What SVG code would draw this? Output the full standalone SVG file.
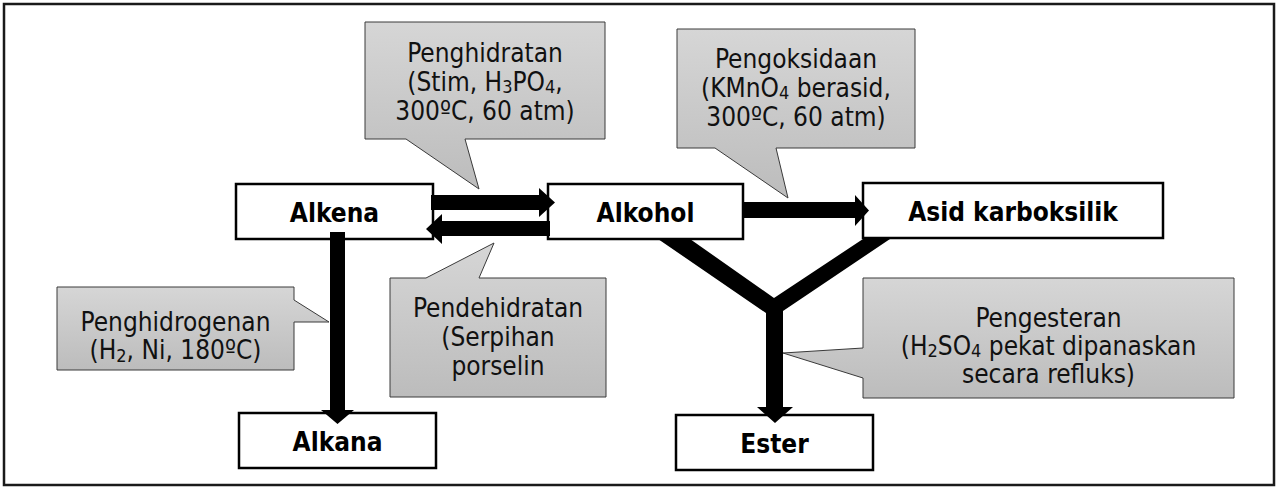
<svg xmlns="http://www.w3.org/2000/svg" width="1279" height="495" viewBox="0 0 1279 495">
<style>
.frame{fill:#fff;stroke:#1a1a1a;stroke-width:2.5}
.box{fill:#fff;stroke:#000;stroke-width:2.5}
.lbl{font-family:"DejaVu Sans Condensed","DejaVu Sans",sans-serif;font-stretch:condensed;font-weight:bold;font-size:26px;fill:#000;text-anchor:middle}
.co{fill:url(#g);stroke:#3a3a3a;stroke-width:1}
.ct{font-family:"DejaVu Sans Condensed","DejaVu Sans",sans-serif;font-stretch:condensed;font-size:26px;fill:#111;text-anchor:middle}
.sb{font-size:18px}
.arr{fill:#000;stroke:none}
</style>
<defs>
<linearGradient id="g" x1="0" y1="0" x2="0" y2="1">
<stop offset="0" stop-color="#d6d6d6"/>
<stop offset="1" stop-color="#bcbcbc"/>
</linearGradient>
</defs>
<rect width="1279" height="495" fill="#fff"/>
<rect class="frame" x="4" y="4" width="1270" height="481"/>

<g id="alkena"><rect class="box" x="236" y="184" width="197" height="55"/><text class="lbl" x="334.5" y="222">Alkena</text></g>
<g id="alkohol"><rect class="box" x="548" y="184" width="195" height="55"/><text class="lbl" x="645.5" y="222">Alkohol</text></g>
<g id="asid"><rect class="box" x="863" y="183" width="300" height="55"/><text class="lbl" x="1013" y="221">Asid karboksilik</text></g>
<g id="alkana"><rect class="box" x="239" y="413" width="197" height="55"/><text class="lbl" x="337.5" y="451">Alkana</text></g>
<g id="ester"><rect class="box" x="676" y="415" width="197" height="55"/><text class="lbl" x="774.5" y="453">Ester</text></g>

<g id="connectors">
<polygon class="arr" points="431,195 539,195 539,188 555,202.5 539,217 539,210 431,210"/>
<polygon class="arr" points="550,221 442,221 442,214 426,229 442,244 442,236 550,236"/>
<polygon class="arr" points="743,202 855,202 855,195 869,210.5 855,226 855,218 743,218"/>
<polygon class="arr" points="330,232 345,232 345,410 354,410 337.5,424 321,410 330,410"/>
<polygon class="arr" points="658,239 690,239 774,298 863,239 890,239 783,311 783,407 793,407 775,423 757,407 766,407 766,313"/>
</g>

<g id="callout-penghidratan">
<path class="co" d="M365,22 H605 V139 H465 L479,189 L406,139 H365 Z"/>
<text class="ct" x="485" y="62">Penghidratan</text>
<text class="ct" x="485" y="91">(Stim, H<tspan class="sb" dy="2">3</tspan><tspan dy="-2">PO</tspan><tspan class="sb" dy="2">4</tspan><tspan dy="-2">,</tspan></text>
<text class="ct" x="485" y="120">300ºC, 60 atm)</text>
</g>
<g id="callout-pengoksidaan">
<path class="co" d="M677,29 H915 V148 H776 L788,198 L715,148 H677 Z"/>
<text class="ct" x="796" y="68">Pengoksidaan</text>
<text class="ct" x="796" y="97">(KMnO<tspan class="sb" dy="2">4</tspan><tspan dy="-2"> berasid,</tspan></text>
<text class="ct" x="796" y="126">300ºC, 60 atm)</text>
</g>
<g id="callout-penghidrogenan">
<path class="co" d="M57,287 H294 V300 L329,322 L294,322 V370 H57 Z"/>
<text class="ct" x="175.5" y="331">Penghidrogenan</text>
<text class="ct" x="175.5" y="359">(H<tspan class="sb" dy="3">2</tspan><tspan dy="-3">, Ni, 180ºC)</tspan></text>
</g>
<g id="callout-pendehidratan">
<path class="co" d="M390,278 H426 L494,243 L479,278 H606 V397 H390 Z"/>
<text class="ct" x="498" y="317">Pendehidratan</text>
<text class="ct" x="498" y="346">(Serpihan</text>
<text class="ct" x="498" y="375">porselin</text>
</g>
<g id="callout-pengesteran">
<path class="co" d="M863,278 H1234 V398 H863 V378 L783,353 L863,348 Z"/>
<text class="ct" x="1048.5" y="327">Pengesteran</text>
<text class="ct" x="1048.5" y="355">(H<tspan class="sb" dy="2">2</tspan><tspan dy="-2">SO</tspan><tspan class="sb" dy="2">4</tspan><tspan dy="-2"> pekat dipanaskan</tspan></text>
<text class="ct" x="1048.5" y="383">secara refluks)</text>
</g>
</svg>
